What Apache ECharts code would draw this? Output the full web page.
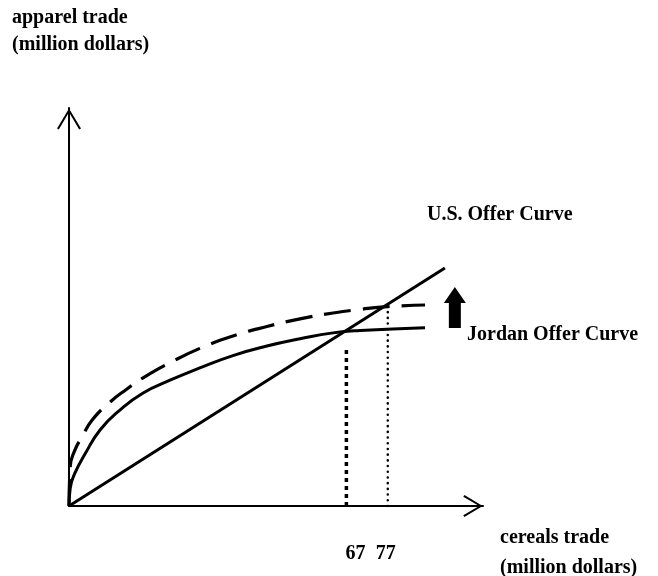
<!DOCTYPE html>
<html>
<head>
<meta charset="utf-8">
<script src="https://cdn.jsdelivr.net/npm/echarts@6/dist/echarts.min.js"></script>
<style>
html,body{margin:0;padding:0;background:#fff;}
#chart{width:658px;height:576px;}
</style>
</head>
<body>
<div id="chart"></div>
<script>
// ---- data ----
const xRange = [0, 100];
const yRange = [0, 100];
const usOfferCurve = [[0, 0], [90.8, 59.8]];
const jordanOfferCurve = [
  [0, 0], [0.3, 4.5], [1.45, 8.3], [3.9, 13.1], [7.5, 19.1], [12.3, 24.1],
  [17.9, 28.4], [24.4, 31.6], [31.6, 34.7], [39.6, 37.8], [47.8, 40.2],
  [55.8, 42.0], [63.8, 43.5], [70.3, 44.1], [86.0, 44.8]
];
const jordanOfferCurveShifted = [
  [0, 0], [0.3, 10.0], [1.45, 14.1], [3.1, 17.3], [5.6, 21.6], [9.9, 26.1],
  [14.0, 29.4], [17.9, 32.2], [24.4, 36.0], [31.6, 39.6], [39.6, 42.7],
  [47.8, 45.1], [55.8, 47.0], [63.8, 48.5], [70.3, 49.4], [77.0, 50.1], [86.0, 50.5]
];
const equilibriumX = [67, 77];
const dropLineTops = [39.7, 50.0];
const tickLabels = ['67', '77'];
const shiftArrow = [[93.2, 49.9]];

const FONT = 'bold 20px "Liberation Serif", "Times New Roman", serif';

const chart = echarts.init(document.getElementById('chart'), null, {renderer: 'canvas'});
const chevron = 'path://M12,0 L24,20 L22.2,21.2 L12,3.9 L1.8,21.2 L0,20 Z';

const option = {
  animation: false,
  backgroundColor: '#fff',
  grid: {left: 69, top: 108, width: 414, height: 398, containLabel: false},
  xAxis: {
    type: 'value', min: xRange[0], max: xRange[1],
    axisLine: {show: true, lineStyle: {color: '#000', width: 2},
      symbol: ['none', chevron], symbolSize: [22, 20], symbolOffset: [0, -10]},
    axisTick: {show: false}, axisLabel: {show: false}, splitLine: {show: false}
  },
  yAxis: {
    type: 'value', min: yRange[0], max: yRange[1],
    axisLine: {show: true, lineStyle: {color: '#000', width: 2},
      symbol: ['none', chevron], symbolSize: [24, 22], symbolOffset: [0, -11]},
    axisTick: {show: false}, axisLabel: {show: false}, splitLine: {show: false}
  },
  series: [
    {
      name: 'U.S. Offer Curve', type: 'line', data: usOfferCurve, showSymbol: false,
      lineStyle: {color: '#000', width: 3}, silent: true
    },
    {
      name: 'Jordan Offer Curve', type: 'line', data: jordanOfferCurve, showSymbol: false,
      smooth: 0.5,
      lineStyle: {color: '#000', width: 3}, silent: true
    },
    {
      name: 'Jordan Offer Curve (shifted)', type: 'line', data: jordanOfferCurveShifted, showSymbol: false,
      smooth: 0.5,
      lineStyle: {color: '#000', width: 3.2, type: [27, 12]}, silent: true
    },
    {
      name: 'drop67', type: 'line', showSymbol: false, silent: true,
      data: [[equilibriumX[0], 0], [equilibriumX[0], dropLineTops[0]]],
      lineStyle: {color: '#000', width: 3.5, type: [4, 4]}
    },
    {
      name: 'drop77', type: 'line', showSymbol: false, silent: true,
      data: [[equilibriumX[1], 0], [equilibriumX[1], dropLineTops[1]]],
      lineStyle: {color: '#000', width: 2.5, type: [0.1, 5.6], cap: 'round'}
    },
    {
      name: 'shift', type: 'scatter', silent: true, data: shiftArrow,
      symbol: 'path://M11,0 L22,16 L17,16 L17,41 L5,41 L5,16 L0,16 Z',
      symbolSize: [22, 41], itemStyle: {color: '#000', opacity: 1}
    },
    {
      name: 'ticks', type: 'scatter', silent: true, symbolSize: 0,
      itemStyle: {opacity: 1},
      data: [
        {value: [equilibriumX[0], 0], label: {formatter: tickLabels[0], offset: [9, 48]}},
        {value: [equilibriumX[1], 0], label: {formatter: tickLabels[1], offset: [-2, 48]}}
      ],
      label: {show: true, position: 'inside', color: '#000', opacity: 1,
        fontFamily: '"Liberation Serif", "Times New Roman", serif', fontWeight: 'bold', fontSize: 20}
    }
  ],
  graphic: [
    {type: 'text', left: 12, top: 4, style: {text: 'apparel trade\n(million dollars)', font: FONT, fill: '#000', lineHeight: 27}},
    {type: 'text', left: 427, top: 205, style: {text: 'U.S. Offer Curve', font: FONT, fill: '#000'}},
    {type: 'text', left: 467, top: 325, style: {text: 'Jordan Offer Curve', font: FONT, fill: '#000'}},
    {type: 'text', left: 500, top: 523, style: {text: 'cereals trade\n(million dollars)', font: FONT, fill: '#000', lineHeight: 30}}
  ]
};
chart.setOption(option);
</script>
</body>
</html>
